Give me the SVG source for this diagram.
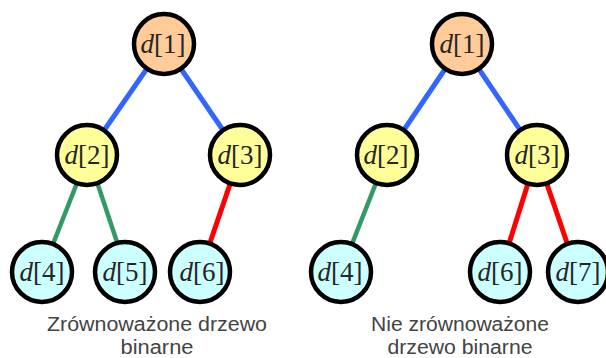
<svg xmlns="http://www.w3.org/2000/svg" width="606" height="358" viewBox="0 0 606 358">
  <style>
    .node { stroke: #000; stroke-width: 4.5; }
    .root { fill: #ffcc99; }
    .mid { fill: #ffff99; }
    .leaf { fill: #ccffff; }
    .lbl { font-family: "Liberation Serif", "Times New Roman", serif; font-size: 27px; fill: #262626; text-anchor: middle; }
    .lbl tspan.v { font-style: italic; }
    .edge { fill: none; stroke-linecap: butt; }
    .blue { stroke: #3366ff; stroke-width: 5; }
    .green { stroke: #339966; stroke-width: 4.5; }
    .red { stroke: #ff0000; stroke-width: 5; }
    .cap { font-family: "Liberation Sans", Arial, sans-serif; font-size: 20px; fill: #444444; text-anchor: middle; }
  </style>
  <rect width="606" height="358" fill="#ffffff"/>

  <g id="connectors">
    <!-- balanced tree -->
    <line class="edge blue" x1="164" y1="44" x2="87" y2="155"/>
    <line class="edge blue" x1="164" y1="44" x2="240" y2="155"/>
    <line class="edge green" x1="88" y1="155" x2="42" y2="272"/>
    <line class="edge green" x1="88" y1="155" x2="127" y2="272"/>
    <line class="edge red" x1="240" y1="155" x2="200" y2="272"/>
    <!-- unbalanced tree -->
    <line class="edge blue" x1="462" y1="44" x2="387" y2="155"/>
    <line class="edge blue" x1="462" y1="44" x2="537" y2="155"/>
    <line class="edge green" x1="387" y1="155" x2="341" y2="272"/>
    <line class="edge red" x1="537" y1="155" x2="500" y2="272"/>
    <line class="edge red" x1="537" y1="155" x2="577" y2="272"/>
  </g>

  <!-- balanced tree nodes -->
  <g id="a1"><circle class="node root" cx="164" cy="44" r="30"/><text class="lbl" x="163" y="53"><tspan class="v">d</tspan>[1]</text></g>
  <g id="a2"><circle class="node mid" cx="87" cy="155" r="30"/><text class="lbl" x="87" y="164"><tspan class="v">d</tspan>[2]</text></g>
  <g id="a3"><circle class="node mid" cx="240" cy="155" r="30"/><text class="lbl" x="240" y="164"><tspan class="v">d</tspan>[3]</text></g>
  <g id="a4"><circle class="node leaf" cx="42" cy="272" r="30"/><text class="lbl" x="42" y="281"><tspan class="v">d</tspan>[4]</text></g>
  <g id="a5"><circle class="node leaf" cx="125" cy="272" r="30"/><text class="lbl" x="125" y="281"><tspan class="v">d</tspan>[5]</text></g>
  <g id="a6"><circle class="node leaf" cx="200" cy="272" r="30"/><text class="lbl" x="202" y="281"><tspan class="v">d</tspan>[6]</text></g>

  <!-- unbalanced tree nodes -->
  <g id="b1"><circle class="node root" cx="462" cy="44" r="30"/><text class="lbl" x="462" y="53"><tspan class="v">d</tspan>[1]</text></g>
  <g id="b2"><circle class="node mid" cx="387" cy="155" r="30"/><text class="lbl" x="386" y="164"><tspan class="v">d</tspan>[2]</text></g>
  <g id="b3"><circle class="node mid" cx="537" cy="155" r="30"/><text class="lbl" x="537" y="164"><tspan class="v">d</tspan>[3]</text></g>
  <g id="b4"><circle class="node leaf" cx="341" cy="272" r="30"/><text class="lbl" x="340" y="281"><tspan class="v">d</tspan>[4]</text></g>
  <g id="b6"><circle class="node leaf" cx="500" cy="272" r="30"/><text class="lbl" x="500" y="281"><tspan class="v">d</tspan>[6]</text></g>
  <g id="b7"><circle class="node leaf" cx="578" cy="272" r="30"/><text class="lbl" x="578" y="281"><tspan class="v">d</tspan>[7]</text></g>

  <!-- captions -->
  <text class="cap" x="157" y="331" textLength="220" lengthAdjust="spacingAndGlyphs">Zrównoważone drzewo</text>
  <text class="cap" x="157" y="354" textLength="73" lengthAdjust="spacingAndGlyphs">binarne</text>
  <text class="cap" x="460" y="331" textLength="178" lengthAdjust="spacingAndGlyphs">Nie zrównoważone</text>
  <text class="cap" x="460" y="354" textLength="145" lengthAdjust="spacingAndGlyphs">drzewo binarne</text>
</svg>
